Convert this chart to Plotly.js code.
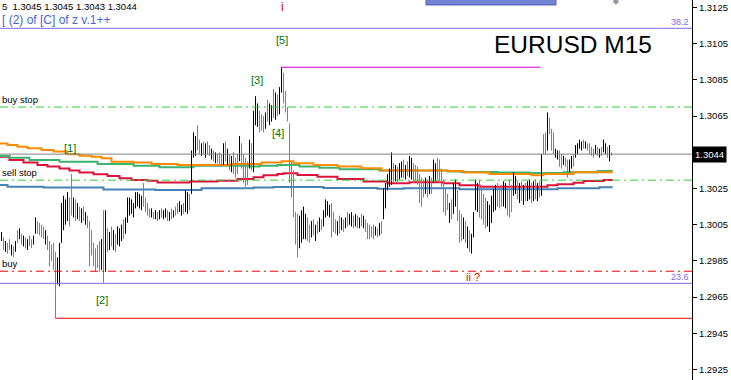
<!DOCTYPE html>
<html><head><meta charset="utf-8">
<script src="https://cdn.plot.ly/plotly-3.0.1.min.js"></script>
<style>html,body{margin:0;padding:0;background:#fff;overflow:hidden}#chart{width:731px;height:380px}</style>
</head><body><div id="chart"></div>
<script>
// ---- M15 bars (high / low), oldest first ----
const barHigh = [
1.3001,1.2998,1.2996,1.2995,1.2997,1.2994,1.2993,1.2996,1.3002,1.3003,
1.3000,1.2999,1.2998,1.2997,1.2999,1.2997,1.2999,1.3009,1.3007,1.3006,
1.3005,1.3004,1.3002,1.2999,1.2996,1.2994,1.2995,1.2990,1.2987,1.2995,
1.3017,1.3021,1.3019,1.3023,1.3020,1.3033,1.3020,1.3019,1.3017,1.3015,
1.3014,1.3015,1.3012,1.3010,1.3007,1.3002,1.2995,1.2992,1.2994,1.2996,
1.2997,1.3013,1.3013,1.3003,1.3001,1.3004,1.3002,1.3000,1.3004,1.3003,
1.3005,1.3008,1.3009,1.3020,1.3020,1.3019,1.3017,1.3023,1.3023,1.3022,
1.3021,1.3028,1.3020,1.3017,1.3014,1.3014,1.3012,1.3013,1.3012,1.3013,
1.3014,1.3013,1.3014,1.3013,1.3012,1.3014,1.3013,1.3015,1.3017,1.3018,
1.3016,1.3017,1.3024,1.3023,1.3022,1.3046,1.3056,1.3054,1.3060,1.3052,
1.3050,1.3051,1.3050,1.3051,1.3049,1.3047,1.3046,1.3045,1.3044,1.3045,
1.3044,1.3050,1.3051,1.3047,1.3044,1.3043,1.3045,1.3042,1.3044,1.3054,
1.3050,1.3044,1.3042,1.3040,1.3052,1.3050,1.3068,1.3076,1.3072,1.3068,
1.3066,1.3065,1.3067,1.3074,1.3072,1.3071,1.3080,1.3078,1.3077,1.3081,
1.3092,1.3089,1.3079,1.3070,1.3061,1.3040,1.3035,1.3012,1.3011,1.3010,
1.3013,1.3015,1.3011,1.3009,1.3005,1.3007,1.3008,1.3005,1.3007,1.3009,
1.3008,1.3013,1.3019,1.3018,1.3016,1.3017,1.3012,1.3008,1.3007,1.3010,
1.3009,1.3008,1.3009,1.3012,1.3011,1.3012,1.3010,1.3011,1.3010,1.3009,
1.3011,1.3010,1.3008,1.3006,1.3005,1.3004,1.3005,1.3004,1.3003,1.3006,
1.3007,1.3025,1.3028,1.3033,1.3036,1.3045,1.3039,1.3038,1.3037,1.3039,
1.3040,1.3041,1.3038,1.3040,1.3043,1.3042,1.3039,1.3038,1.3037,1.3033,
1.3031,1.3030,1.3031,1.3030,1.3032,1.3031,1.3041,1.3039,1.3042,1.3041,
1.3036,1.3030,1.3025,1.3022,1.3017,1.3019,1.3028,1.3030,1.3024,1.3013,
1.3011,1.3009,1.3007,1.3004,1.3002,1.3000,1.3012,1.3030,1.3028,1.3030,
1.3027,1.3022,1.3020,1.3018,1.3016,1.3021,1.3025,1.3027,1.3028,1.3026,
1.3027,1.3029,1.3028,1.3024,1.3030,1.3027,1.3034,1.3032,1.3029,1.3028,
1.3029,1.3027,1.3028,1.3029,1.3030,1.3028,1.3029,1.3030,1.3028,1.3029,
1.3044,1.3055,1.3056,1.3067,1.3064,1.3058,1.3056,1.3047,1.3046,1.3046,
1.3044,1.3043,1.3042,1.3041,1.3041,1.3043,1.3044,1.3049,1.3050,1.3052,
1.3051,1.3052,1.3051,1.3050,1.3050,1.3048,1.3047,1.3049,1.3048,1.3047,
1.3048,1.3052,1.3050,1.3048,1.3049,1.3045];
const barLow = [
1.2996,1.2991,1.2990,1.2989,1.2991,1.2988,1.2987,1.2990,1.2995,1.2997,
1.2994,1.2993,1.2992,1.2991,1.2993,1.2992,1.2994,1.3000,1.3000,1.2999,
1.2998,1.2997,1.2994,1.2991,1.2982,1.2985,1.2980,1.2970,1.2972,1.2971,
1.2995,1.3002,1.3005,1.3007,1.3004,1.3010,1.3009,1.3007,1.3008,1.3007,
1.3006,1.3007,1.3005,1.3003,1.2982,1.2988,1.2982,1.2979,1.2981,1.2979,
1.2980,1.2973,1.2979,1.2990,1.2991,1.2993,1.2991,1.2990,1.2994,1.2993,
1.2996,1.2997,1.3000,1.3006,1.3010,1.3011,1.3009,1.3014,1.3015,1.3014,
1.3013,1.3015,1.3012,1.3010,1.3009,1.3009,1.3008,1.3008,1.3007,1.3008,
1.3009,1.3008,1.3009,1.3007,1.3007,1.3008,1.3009,1.3010,1.3011,1.3012,
1.3010,1.3011,1.3012,1.3011,1.3013,1.3022,1.3042,1.3043,1.3046,1.3044,
1.3043,1.3044,1.3042,1.3044,1.3043,1.3041,1.3040,1.3039,1.3039,1.3038,
1.3037,1.3038,1.3040,1.3038,1.3035,1.3034,1.3033,1.3031,1.3033,1.3040,
1.3036,1.3028,1.3026,1.3027,1.3036,1.3035,1.3034,1.3060,1.3059,1.3056,
1.3057,1.3056,1.3058,1.3062,1.3060,1.3062,1.3064,1.3063,1.3065,1.3066,
1.3078,1.3072,1.3067,1.3062,1.3028,1.3020,1.3009,1.2994,1.2987,1.2992,
1.2995,1.2997,1.2997,1.2996,1.2995,1.2998,1.2999,1.2996,1.3000,1.3001,
1.3002,1.3004,1.3009,1.3010,1.3009,1.2998,1.3001,1.3000,1.2999,1.3000,
1.3002,1.3001,1.3003,1.3004,1.3005,1.3004,1.3003,1.3004,1.3003,1.3003,
1.3004,1.3003,1.3001,1.2997,1.2997,1.2998,1.2997,1.2999,1.2998,1.2999,
1.3000,1.3008,1.3014,1.3024,1.3026,1.3027,1.3028,1.3029,1.3028,1.3030,
1.3031,1.3031,1.3030,1.3032,1.3031,1.3030,1.3028,1.3029,1.3027,1.3017,
1.3015,1.3020,1.3022,1.3020,1.3022,1.3022,1.3028,1.3029,1.3030,1.3028,
1.3026,1.3012,1.3010,1.3013,1.3006,1.3008,1.3011,1.3015,1.3007,1.2995,
1.2996,1.2997,1.2995,1.2992,1.2990,1.2989,1.2998,1.3013,1.3012,1.3009,
1.3008,1.3005,1.3003,1.3004,1.3001,1.3006,1.3012,1.3013,1.3015,1.3014,
1.3015,1.3015,1.3014,1.3010,1.3009,1.3012,1.3021,1.3022,1.3019,1.3017,
1.3018,1.3016,1.3018,1.3018,1.3019,1.3017,1.3018,1.3019,1.3018,1.3020,
1.3021,1.3044,1.3044,1.3046,1.3055,1.3046,1.3044,1.3042,1.3041,1.3037,
1.3036,1.3038,1.3037,1.3031,1.3034,1.3036,1.3037,1.3042,1.3044,1.3047,
1.3046,1.3047,1.3047,1.3046,1.3044,1.3043,1.3042,1.3044,1.3043,1.3042,
1.3043,1.3045,1.3044,1.3042,1.3040,1.3043];
// 1 = bull bar (black), 0 = bear bar (gray)
const barUp = [
"1010010101","0101001100","0010000011","1111001010","1010000000",
"1010101011","1011111111","1000010101","0110101001","1011011100",
"1010010100","0101010001","0000101110","0010110101","1000000001",
"1110010101","0111100010","1010110101","0100000101","0111110101",
"1010110000","0010101100","0000101100","0101011110","0001111100",
"0110001101","0101101010","1001000110","0100110111","1010000101",
"011010"].join("");

// ---- higher-timeframe moving averages (step start bar, value) ----
const maOrangeBar = [-1,3,8,13,20,26,33,39,45,50,55,66,75,88,115,130,140,146,156,168,180,190,223,231,244,265,271,286,305.6];
const maOrangeVal = [1.30498,1.30490,1.30480,1.30472,1.30463,1.30454,1.30439,1.30431,1.30426,1.30417,1.30398,1.30393,1.30386,1.30380,1.30386,1.30393,1.30401,1.30390,1.30380,1.30371,1.30362,1.30350,1.30347,1.30338,1.30330,1.30323,1.30330,1.30340,1.30340];
const maGreenBar = [-1,4,14,29,48,66,79,96,124,129,138,149,159,169,189,223,230,248,264,281,298,305.6];
const maGreenVal = [1.30429,1.30420,1.30408,1.30398,1.30386,1.30375,1.30367,1.30375,1.30371,1.30376,1.30380,1.30371,1.30365,1.30356,1.30350,1.30344,1.30341,1.30338,1.30336,1.30340,1.30347,1.30347];
const maRedBar = [-1,4,11,18,23,29,34,39,46,53,59,65,73,78,94,108,118,126,131,138,141,148,158,168,181,193,204,221,229,239,273,278,286,291,301,305.6];
const maRedVal = [1.30426,1.30408,1.30393,1.30380,1.30371,1.30360,1.30349,1.30338,1.30329,1.30319,1.30307,1.30297,1.30293,1.30283,1.30288,1.30293,1.30303,1.30312,1.30323,1.30330,1.30334,1.30325,1.30315,1.30303,1.30288,1.30279,1.30284,1.30279,1.30268,1.30260,1.30268,1.30273,1.30282,1.30292,1.30297,1.30297];
const maBlueBar = [-1,3,21,51,77,100,126,136,161,188,201,229,278,299,305.6];
const maBlueVal = [1.30270,1.30260,1.30256,1.30245,1.30242,1.30251,1.30255,1.30258,1.30253,1.30248,1.30251,1.30246,1.30251,1.30257,1.30257];

// ---- price levels ----
const bidPrice = 1.3044;
const fib382 = 1.31135, fib236 = 1.29726;
const buyStopLevel = 1.30700, sellStopLevel = 1.30296, buyLevel = 1.29793;
const stopLineLevel = 1.29533, stopLineBar = 27, stopLineFrom = 1.2970;
const wave5Level = 1.3092, wave5FromBar = 140, wave5ToBar = 269.5;
const yTicks = [1.2925,1.2945,1.2965,1.2985,1.3005,1.3025,1.3065,1.3085,1.3105,1.3125];
const yTickText = ["1.2925","1.2945","1.2965","1.2985","1.3005","1.3025","1.3065","1.3085","1.3105","1.3125"];
const ohlcText = "5  1.3045 1.3045 1.3043 1.3044";
const titleText = "EURUSD M15";

function barTrace(flag, color){
  const xs=[], ys=[];
  for(let i=0;i<barHigh.length;i++){
    if(barUp[i]===flag){ xs.push(i,i,null); ys.push(barLow[i],barHigh[i],null); }
  }
  return {type:'scatter',mode:'lines',x:xs,y:ys,line:{color:color,width:1},hoverinfo:'skip',showlegend:false};
}
function maTrace(bx, vy, color){
  return {type:'scatter',mode:'lines',x:bx,y:vy,line:{color:color,width:2,shape:'hv'},hoverinfo:'skip',showlegend:false};
}
const traces = [
  maTrace(maBlueBar, maBlueVal, '#4682b4'),
  maTrace(maRedBar, maRedVal, '#dc143c'),
  maTrace(maGreenBar, maGreenVal, '#3cb371'),
  maTrace(maOrangeBar, maOrangeVal, '#ff8c00'),
  barTrace('0', '#808080'),
  barTrace('1', '#000000'),
  {type:'scatter',mode:'lines',x:[stopLineBar,stopLineBar],y:[stopLineFrom,stopLineLevel],line:{color:'#808080',width:1},hoverinfo:'skip',showlegend:false},
  {type:'scatter',mode:'lines',x:[stopLineBar,345.25],y:[stopLineLevel,stopLineLevel],line:{color:'#ff0000',width:1},hoverinfo:'skip',showlegend:false},
  {type:'scatter',mode:'lines',x:[wave5FromBar,wave5ToBar],y:[wave5Level,wave5Level],line:{color:'#cc00cc',width:1},hoverinfo:'skip',showlegend:false},
  {type:'scatter',mode:'markers',x:[307.2],y:[1.31283],marker:{symbol:'diamond',size:5,color:'#8a9aa6'},hoverinfo:'skip',showlegend:false,cliponaxis:false}
];

function hline(y, color, dash){
  return {type:'line',xref:'paper',x0:0,x1:1,yref:'y',y0:y,y1:y,line:{color:color,width:1,dash:dash||'solid'},layer:'above'};
}
const dd = '8px,4px,2px,4px';
const shapes = [
  hline(bidPrice,'#808080'),
  hline(fib382,'#7b68ee'),
  hline(fib236,'#7b68ee'),
  hline(buyStopLevel,'#32cd32',dd),
  hline(sellStopLevel,'#32cd32',dd),
  hline(buyLevel,'#ff0000',dd),
  {type:'rect',xref:'x',yref:'y',x0:212.25,x1:277.25,y0:1.31264,y1:1.3140,fillcolor:'#7484d4',line:{color:'#4d5db8',width:1}}
];

const F = 'Liberation Sans, Arial, sans-serif';
function lab(text, x, y, color, size, opts){
  return Object.assign({text:text,x:x,y:y,xref:'x',yref:'y',showarrow:false,font:{family:F,size:size,color:color},xanchor:'center',yanchor:'middle'},opts||{});
}
const green = '#007800';
const annotations = [
  lab('[5]',140.25,1.31071,green,11),
  lab('[3]',127.5,1.30850,green,11),
  lab('[4]',138.3,1.30557,green,11),
  lab('[1]',34.3,1.30474,green,11),
  lab('[2]',50.3,1.29634,green,11),
  lab('i',140.5,1.31252,'#ee0000',12),
  lab('ii ?',235.8,1.29761,'#ee0000',11),
  lab('38.2',1,fib382,'#7b68ee',9,{xref:'paper',x:0.998,xanchor:'right',yanchor:'bottom',yshift:-1}),
  lab('23.6',1,fib236,'#7b68ee',9,{xref:'paper',x:0.998,xanchor:'right',yanchor:'bottom',yshift:-1}),
  lab('buy stop',0,buyStopLevel,'#000000',9.5,{xref:'paper',x:0,xanchor:'left',yanchor:'bottom',yshift:0}),
  lab('sell stop',0,sellStopLevel,'#000000',9.5,{xref:'paper',x:0,xanchor:'left',yanchor:'bottom',yshift:0}),
  lab('buy',0,buyLevel,'#000000',9.5,{xref:'paper',x:0,xanchor:'left',yanchor:'bottom',yshift:0}),
  lab(titleText,0,0,'#000000',24.5,{xref:'paper',yref:'paper',x:573/692,y:1-44/380}),
  lab(ohlcText,0,0,'#000000',9.5,{xref:'paper',yref:'paper',x:0,y:1-6/380,xanchor:'left',xshift:0}),
  lab('[ (2) of [C] of z v.1++',0,0,'#4a64d8',12,{xref:'paper',yref:'paper',x:0,y:1-20/380,xanchor:'left',xshift:0}),
  lab(bidPrice.toFixed(4),0,bidPrice,'#ffffff',9.5,{xref:'paper',x:1,xanchor:'left',xshift:0,bgcolor:'#000000',borderpad:2})
];

const layout = {
  width:731,height:380,
  margin:{l:0,r:39,t:0,b:0,pad:0},
  paper_bgcolor:'#ffffff',plot_bgcolor:'#ffffff',
  showlegend:false,
  xaxis:{range:[-0.75,345.25],visible:false,fixedrange:true},
  yaxis:{range:[1.29192,1.312914],side:'right',tickvals:yTicks,ticktext:yTickText,
    ticks:'outside',ticklen:4,tickcolor:'#000',showline:true,linecolor:'#000',linewidth:1,
    showgrid:false,zeroline:false,tickfont:{family:F,size:9.5,color:'#000'},fixedrange:true},
  shapes:shapes,
  annotations:annotations
};
Plotly.newPlot('chart',traces,layout,{staticPlot:true,displayModeBar:false});
</script></body></html>
